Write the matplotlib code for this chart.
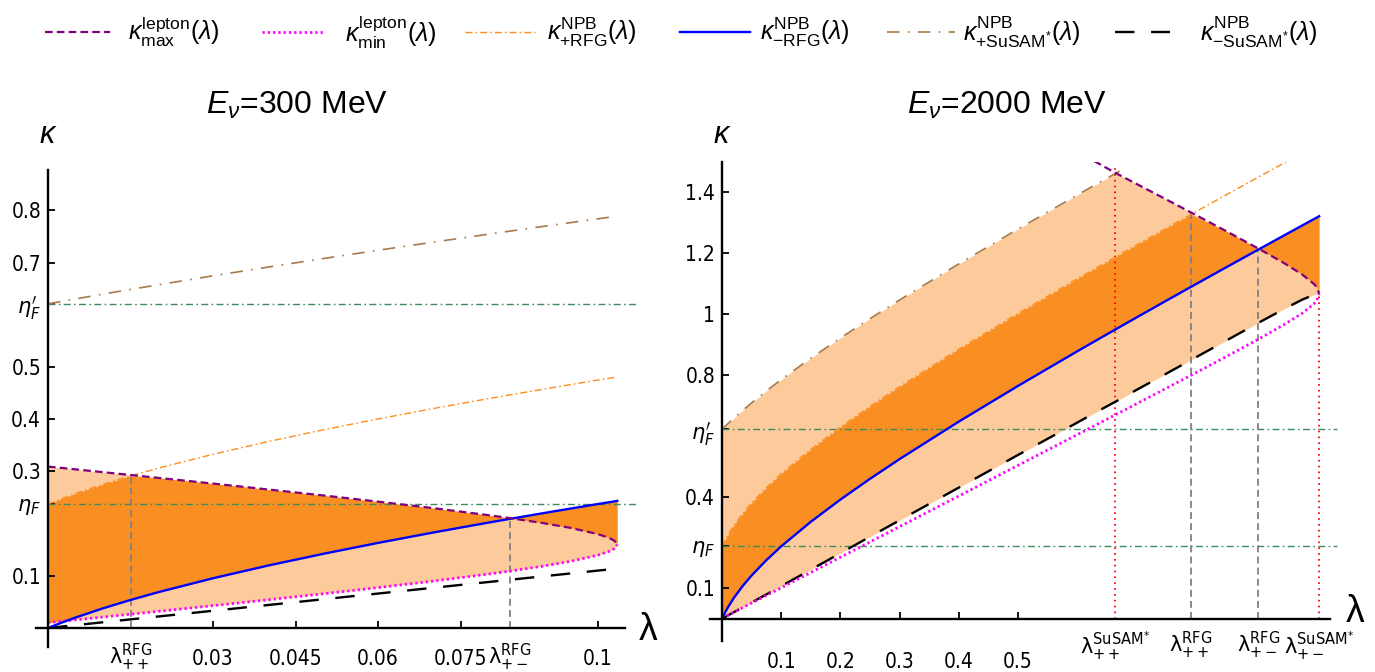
import numpy as np
import matplotlib
matplotlib.use("Agg")
import matplotlib.pyplot as plt
from matplotlib import font_manager as fm
from matplotlib.lines import Line2D

# ---------------- data: left panel (E_nu = 300 MeV) ----------------
lam_L = [0, 0.0025, 0.005, 0.01, 0.015, 0.02, 0.03, 0.04, 0.05, 0.06, 0.07,
         0.08, 0.084, 0.09, 0.095, 0.1, 0.102, 0.103, 0.1035]
kmax_L = [0.3093, 0.3066, 0.3039, 0.2985, 0.2931, 0.2877, 0.2767, 0.2654, 0.2540, 0.2421, 0.2297,
          0.2163, 0.2105, 0.2010, 0.1918, 0.1798, 0.1727, 0.1671, 0.1597]
kmin_L = [0.0102, 0.0129, 0.0156, 0.0210, 0.0264, 0.0318, 0.0428, 0.0540, 0.0655, 0.0774, 0.0898,
          0.1032, 0.1090, 0.1185, 0.1277, 0.1396, 0.1468, 0.1523, 0.1597]
kp_rfg_L = [0.2375, 0.2479, 0.2575, 0.2752, 0.2912, 0.3060, 0.3328, 0.3571, 0.3795, 0.4005, 0.4203,
            0.4393, 0.4466, 0.4574, 0.4663, 0.4750, 0.4784, 0.4801, 0.4810]
km_rfg_L = [0.0, 0.0104, 0.0200, 0.0377, 0.0537, 0.0685, 0.0953, 0.1196, 0.1420, 0.1630, 0.1828,
            0.2018, 0.2091, 0.2199, 0.2288, 0.2375, 0.2409, 0.2426, 0.2435]
kp_sus_L = [0.6210, 0.6257, 0.6304, 0.6396, 0.6486, 0.6574, 0.6747, 0.6914, 0.7077, 0.7236, 0.7391,
            0.7543, 0.7603, 0.7693, 0.7766, 0.7839, 0.7868, 0.7883, 0.7890]
km_sus_L = [0.0, 0.0028, 0.0055, 0.0110, 0.0165, 0.0220, 0.0330, 0.0440, 0.0550, 0.0660, 0.0770,
            0.0880, 0.0924, 0.0990, 0.1045, 0.1100, 0.1122, 0.1133, 0.1138]
eta_L = [0.2375, 0.621]                 # eta_F, eta'_F
marks_L = [0.0151, 0.084]               # lambda_{++}^RFG, lambda_{+-}^RFG
marks_top_L = [0.293, 0.210]
xticks_L = [0.03, 0.045, 0.06, 0.075, 0.1]
xticklabels_L = ["0.03", "0.045", "0.06", "0.075", "0.1"]
marklabels_L = [r"$\mathrm{\lambda}^{\mathrm{RFG}}_{++}$", r"$\mathrm{\lambda}^{\mathrm{RFG}}_{+-}$"]
yticks_L = [0.1, 0.2375, 0.3, 0.4, 0.5, 0.621, 0.7, 0.8]
yticklabels_L = ["0.1", r"$\eta_F$", "0.3", "0.4", "0.5", r"$\eta_F^{\prime}$", "0.7", "0.8"]

# ---------------- data: right panel (E_nu = 2000 MeV) ----------------
nan = np.nan
lam_R = [0, 0.002, 0.005, 0.01, 0.02, 0.035, 0.05, 0.075, 0.1, 0.15, 0.2, 0.25, 0.3, 0.4, 0.5,
         0.6, 0.624, 0.664, 0.678, 0.7, 0.75, 0.792, 0.85, 0.906, 0.95, 0.98, 1.0, 1.005, 1.0087]
kmax_R = [2.1284, 2.1264, 2.1234, 2.1184, 2.1084, 2.0934, 2.0784, 2.0533, 2.0283, 1.9782, 1.9281,
          1.8780, 1.8279, 1.7275, 1.6271, 1.5265, 1.5055, 1.4620, 1.4478, 1.4256, 1.3749, 1.3320,
          1.2724, 1.2136, 1.1652, 1.1286, 1.0974, 1.0857, 1.0650]
kmin_R = [0.0015, 0.0035, 0.0065, 0.0115, 0.0215, 0.0365, 0.0516, 0.0766, 0.1016, 0.1517, 0.2018,
          0.2519, 0.3021, 0.4024, 0.5028, 0.6034, 0.6276, 0.6680, 0.6821, 0.7044, 0.7553, 0.7978,
          0.8575, 0.9163, 0.9648, 1.0013, 1.0325, 1.0442, 1.0650]
kp_rfg_R = [0.2375, 0.2459, 0.2575, 0.2752, 0.3060, 0.3452, 0.3795, 0.4299, 0.4750, 0.5555, 0.6283,
            0.6963, 0.7610, 0.8838, 1.0008, 1.1141, 1.1409, 1.1853, 1.2007, 1.2249, 1.2796, 1.3252,
            1.3877, 1.4477, 1.4946, 1.5265, 1.5477, 1.5530, 1.5569]
km_rfg_R = [0.0, 0.0084, 0.0200, 0.0377, 0.0685, 0.1077, 0.1420, 0.1924, 0.2375, 0.3180, 0.3908,
            0.4588, 0.5235, 0.6463, 0.7633, 0.8766, 0.9034, 0.9478, 0.9632, 0.9874, 1.0421, 1.0877,
            1.1502, 1.2102, 1.2571, 1.2890, 1.3102, 1.3155, 1.3194]
kp_sus_R = [0.6210, 0.6248, 0.6304, 0.6396, 0.6574, 0.6831, 0.7077, 0.7468, 0.7839, 0.8541, 0.9203,
            0.9837, 1.0450, 1.1633, 1.2774, 1.3888, 1.4152, 1.4589, 1.4742, nan, nan, nan,
            nan, nan, nan, nan, nan, nan, nan]
km_sus_R = [0.0, 0.0022, 0.0055, 0.0110, 0.0215, 0.0375, 0.0535, 0.0800, 0.1070, 0.1610, 0.2150,
            0.2690, 0.3230, 0.4300, 0.5370, 0.6430, 0.6690, 0.7110, 0.7260, 0.7500, 0.8030, 0.8480,
            0.9100, 0.9700, 1.0160, 1.0460, 1.0620, 1.0660, 1.0690]
eta_R = [0.2375, 0.621]
marks_R = [0.664, 0.792, 0.906, 1.0087]   # SuSAM++, RFG++, RFG+-, SuSAM+-
marks_top_R = [1.48, 1.332, 1.213, 1.065]
xticks_R = [0.1, 0.2, 0.3, 0.4, 0.5]
xticklabels_R = ["0.1", "0.2", "0.3", "0.4", "0.5"]
marklabels_R = [r"$\mathrm{\lambda}^{\mathrm{SuSAM}^{*}}_{++}$", r"$\mathrm{\lambda}^{\mathrm{RFG}}_{++}$",
                r"$\mathrm{\lambda}^{\mathrm{RFG}}_{+-}$", r"$\mathrm{\lambda}^{\mathrm{SuSAM}^{*}}_{+-}$"]
yticks_R = [0.1, 0.2375, 0.4, 0.621, 0.8, 1.0, 1.2, 1.4]
yticklabels_R = ["0.1", r"$\eta_F$", "0.4", r"$\eta_F^{\prime}$", "0.8", "1", "1.2", "1.4"]

legend_labels = [r"$\kappa^{\mathrm{lepton}}_{\mathrm{max}}(\lambda)$",
                 r"$\kappa^{\mathrm{lepton}}_{\mathrm{min}}(\lambda)$",
                 r"$\kappa^{\mathrm{NPB}}_{+\mathrm{RFG}}(\lambda)$",
                 r"$\kappa^{\mathrm{NPB}}_{-\mathrm{RFG}}(\lambda)$",
                 r"$\kappa^{\mathrm{NPB}}_{+\mathrm{SuSAM}^{*}}(\lambda)$",
                 r"$\kappa^{\mathrm{NPB}}_{-\mathrm{SuSAM}^{*}}(\lambda)$"]
titles = [r"$E_{\nu}$=300 MeV", r"$E_{\nu}$=2000 MeV"]

# ---------------- styling ----------------
names = {f.name for f in fm.fontManager.ttflist}
narrow = "Liberation Sans Narrow" if "Liberation Sans Narrow" in names else "Liberation Sans"
plt.rcParams["font.family"] = ["DejaVu Sans"]
plt.rcParams["mathtext.fontset"] = "custom"
plt.rcParams["mathtext.rm"] = narrow
plt.rcParams["mathtext.it"] = narrow + ":italic"
plt.rcParams["mathtext.bf"] = narrow + ":bold"
plt.rcParams["mathtext.sf"] = narrow
plt.rcParams["lines.scale_dashes"] = False

LIGHT = "#fdcb9b"
DARK = "#f98e22"
st_kmax = dict(color="#800080", lw=1.6, dashes=(5.5, 3.0))
st_kmin = dict(color="#ff00ff", lw=2.0, dashes=(1.6, 2.2))
st_kprfg = dict(color="#ff8c1a", lw=1.0, dashes=(5.0, 2.2, 1.2, 2.2))
st_kmrfg = dict(color="#0000ff", lw=1.7, linestyle="-")
st_kpsus = dict(color="#a67a4c", lw=1.2, dashes=(9.0, 6.0, 1.2, 6.0))
st_kmsus = dict(color="black", lw=1.7, dashes=(14.0, 12.0))
st_eta = dict(color="#3d8c5e", lw=1.0, dashes=(5.0, 2.4, 1.2, 2.4))
st_gray = dict(color="#808080", lw=1.3, dashes=(5.0, 3.0))
st_red = dict(color="#ff0000", lw=1.3, dashes=(1.2, 3.0))
styles = [st_kmax, st_kmin, st_kprfg, st_kmrfg, st_kpsus, st_kmsus]

W, H = 1375, 672
fig = plt.figure(figsize=(W / 100, H / 100), dpi=100)
fig.patch.set_facecolor("white")


def make_axes(pl, pr, pt, pb, xlim, ylim):
    ax = fig.add_axes([pl / W, 1 - pb / H, (pr - pl) / W, (pb - pt) / H])
    ax.set_xlim(*xlim)
    ax.set_ylim(*ylim)
    ax.patch.set_visible(False)
    for s in ("top", "right"):
        ax.spines[s].set_visible(False)
    for s in ("left", "bottom"):
        ax.spines[s].set_position(("data", 0))
        ax.spines[s].set_linewidth(1.7)
        ax.spines[s].set_zorder(6)
    ax.tick_params(which="major", direction="in", length=5, width=1.3)
    ax.tick_params(which="minor", length=0)
    return ax


def draw_panel(ax, lam, kmax, kmin, kp_rfg, km_rfg, kp_sus, km_sus):
    lam = np.array(lam)
    kmax, kmin = np.array(kmax), np.array(kmin)
    kp_rfg, km_rfg = np.array(kp_rfg), np.array(km_rfg)
    kp_sus, km_sus = np.array(kp_sus), np.array(km_sus)
    ax.fill_between(lam, np.fmax(kmin, km_sus), np.fmin(kmax, kp_sus), color=LIGHT, lw=0, zorder=1)
    ax.fill_between(lam, np.fmax(kmin, km_rfg), np.fmin(kmax, kp_rfg), color=DARK, lw=0, zorder=1.5)
    ax.plot(lam, kp_sus, zorder=3, **st_kpsus)
    ax.plot(lam, kp_rfg, zorder=3, **st_kprfg)
    ax.plot(lam, km_sus, zorder=3.2, **st_kmsus)
    ax.plot(lam, kmin, zorder=3.3, **st_kmin)
    ax.plot(lam, km_rfg, zorder=3.4, **st_kmrfg)
    ax.plot(lam, kmax, zorder=3.5, **st_kmax)


def set_ticks(ax, xt, xtl, mk, mkl, yt, ytl, pad_major, pad_minor, fs):
    ax.set_xticks(xt)
    ax.set_xticklabels(xtl)
    ax.set_xticks(mk, minor=True)
    ax.set_xticklabels(mkl, minor=True)
    ax.set_yticks(yt)
    ax.set_yticklabels(ytl)
    ax.tick_params(axis="x", which="major", pad=pad_major, labelsize=fs)
    ax.tick_params(axis="x", which="minor", pad=pad_minor, labelsize=fs)
    ax.tick_params(axis="y", which="major", pad=5, labelsize=fs)
    for t in ax.get_xticklabels() + ax.get_yticklabels() + ax.get_xticklabels(minor=True):
        t.set_fontfamily("DejaVu Sans")
        t.set_fontstretch("condensed")
        t.set_math_fontfamily("dejavusans")


# ---------------- left panel ----------------
axL = make_axes(36, 625, 170, 647, (-0.002182, 0.104909), (-0.0364, 0.8774))
draw_panel(axL, lam_L, kmax_L, kmin_L, kp_rfg_L, km_rfg_L, kp_sus_L, km_sus_L)
for e in eta_L:
    axL.plot([0, 0.1073], [e, e], clip_on=False, zorder=2.5, **st_eta)
for m, t in zip(marks_L, marks_top_L):
    axL.plot([m, m], [0, t], zorder=2.6, **st_gray)
set_ticks(axL, xticks_L, xticklabels_L, marks_L, marklabels_L, yticks_L, yticklabels_L, 15, 10, 15)

# ---------------- right panel ----------------
axR = make_axes(710, 1330, 162, 641, (-0.02027, 1.02703), (-0.07276, 1.49721))
draw_panel(axR, lam_R, kmax_R, kmin_R, kp_rfg_R, km_rfg_R, kp_sus_R, km_sus_R)
for e in eta_R:
    axR.plot([0, 1.039], [e, e], clip_on=False, zorder=2.5, **st_eta)
for m, t, st in zip(marks_R, marks_top_R, [st_red, st_gray, st_gray, st_red]):
    axR.plot([m, m], [0, t], zorder=2.6, **st)
set_ticks(axR, xticks_R, xticklabels_R, marks_R, marklabels_R, yticks_R, yticklabels_R, 24, 8, 15)

# axis name labels
for ax, xl, yl in ((axL, (648, 630), (48, 135)), (axR, (1355, 612), (722, 135))):
    fig.text(xl[0] / W, 1 - xl[1] / H, r"$\mathrm{\lambda}$", fontsize=27, ha="center", va="center",
             family=narrow, math_fontfamily="custom")
    fig.text(yl[0] / W, 1 - yl[1] / H, r"$\kappa$", fontsize=22, ha="center", va="center",
             family=narrow, math_fontfamily="custom")

# titles
for tx, (xc, yc) in zip(titles, ((297, 105), (1007, 105))):
    fig.text(xc / W, 1 - yc / H, tx, fontsize=23, ha="center", va="center",
             family="Liberation Sans", math_fontfamily="custom")

# legend (manual row at the top)
leg_line_x = [(45, 110), (262, 325), (465, 535), (680, 750), (887, 955), (1115, 1170)]
leg_text_x = [128, 345, 547, 760, 963, 1200]
yleg = 1 - 32 / H
for (x0, x1), xt, lab, st in zip(leg_line_x, leg_text_x, legend_labels, styles):
    fig.add_artist(Line2D([x0 / W, x1 / W], [yleg, yleg], transform=fig.transFigure, **st))
    fig.text(xt / W, yleg, lab, fontsize=18, ha="left", va="center", family=narrow,
             math_fontfamily="custom")

fig.savefig("out.png", dpi=100, facecolor="white")
